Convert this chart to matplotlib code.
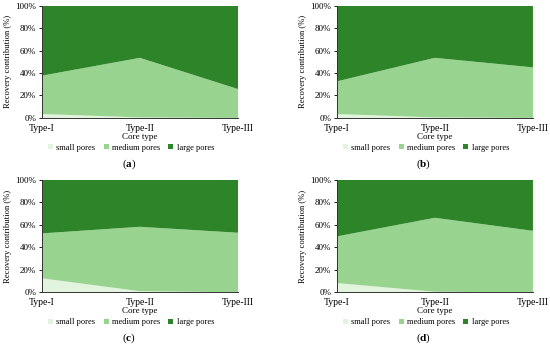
import numpy as np
import matplotlib.pyplot as plt
from matplotlib.ticker import PercentFormatter

plt.rcParams['font.family'] = ['Liberation Serif', 'DejaVu Serif']
plt.rcParams['mathtext.fontset'] = 'custom'
plt.rcParams['mathtext.rm'] = 'Liberation Serif'
plt.rcParams['mathtext.bf'] = 'Liberation Serif:bold'

# Core types on the x axis
core_types = ['Type-I', 'Type-II', 'Type-III']
panel_labels = ['a', 'b', 'c', 'd']

# Recovery contribution (%) per panel
small_pores = [
    [3.5, 0.5, 0.0],
    [3.5, 0.5, 0.0],
    [12.5, 1.0, 0.0],
    [8.3, 0.5, 0.0],
]
small_plus_medium = [
    [37.6, 53.5, 25.7],
    [32.5, 53.5, 45.0],
    [52.4, 58.3, 53.0],
    [49.7, 66.3, 54.7],
]

colors = ['#e2f3de', '#98d490', '#2e8429']
names = ['small pores', 'medium pores', 'large pores']

fig = plt.figure(figsize=(5.5, 3.48), dpi=100)

# axes boxes in figure fractions: (left, bottom, width, height)
boxes = [
    (0.0758, 0.661, 0.357, 0.323),
    (0.612, 0.661, 0.357, 0.323),
    (0.0758, 0.160, 0.357, 0.323),
    (0.612, 0.160, 0.357, 0.323),
]

x = np.arange(len(core_types))
for i, box in enumerate(boxes):
    ax = fig.add_axes(box)
    small = np.array(small_pores[i])
    medium = np.array(small_plus_medium[i]) - small
    large = 100 - np.array(small_plus_medium[i])
    ax.stackplot(x, small, medium, large, colors=colors, labels=names)
    ax.set_xlim(0, 2)
    ax.set_ylim(0, 100)
    ax.set_yticks(range(0, 101, 20))
    ax.yaxis.set_major_formatter(PercentFormatter(decimals=0))
    ax.set_xticks(x)
    ax.set_xticklabels(core_types)
    ax.tick_params(axis='x', length=0, labelsize=7, pad=4)
    ax.tick_params(axis='y', length=2, width=0.6, labelsize=6.5, pad=2)
    for s in ['top', 'right']:
        ax.spines[s].set_visible(False)
    for s in ['left', 'bottom']:
        ax.spines[s].set_color('#333333')
        ax.spines[s].set_linewidth(0.7)
    ax.set_xlabel('Core type', fontsize=6.5, labelpad=0)
    ax.set_ylabel('Recovery contribution (%)', fontsize=6.2, labelpad=2)
    ax.legend(loc='upper center', bbox_to_anchor=(0.455, -0.2), ncol=3,
              frameon=False, fontsize=6, handlelength=0.6, handleheight=0.6,
              handletextpad=0.4, columnspacing=1.0, borderaxespad=0)
    cx = box[0] + box[2] * 0.445
    fig.text(cx, box[1] - 0.132, r'($\mathbf{%s}$)' % panel_labels[i],
             ha='center', va='center', fontsize=8)

fig.savefig('out.png', dpi=100)
